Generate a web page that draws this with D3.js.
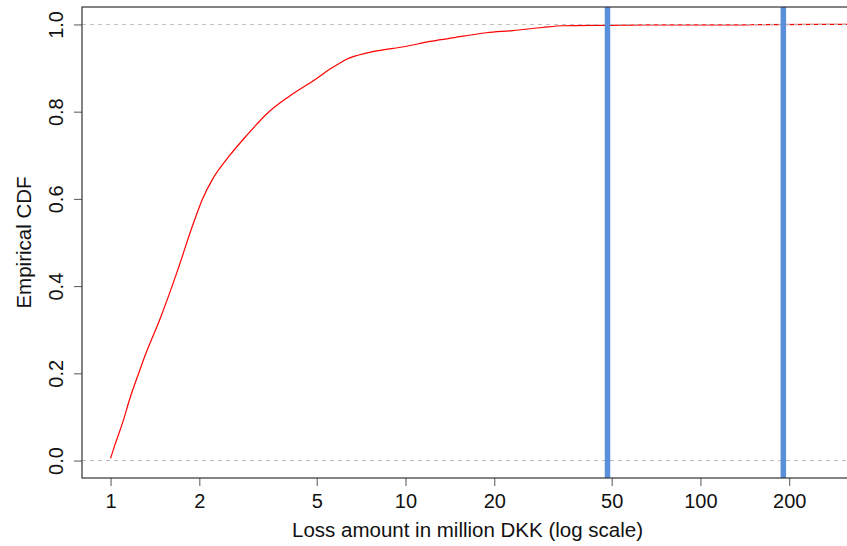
<!DOCTYPE html>
<html>
<head>
<meta charset="utf-8">
<script src="https://cdn.jsdelivr.net/npm/d3@7"></script>
<style>
  html, body { margin: 0; padding: 0; background: #fff; }
  svg { display: block; font-family: Arial, "Liberation Sans", sans-serif; }
</style>
</head>
<body>
<svg id="chart" width="847" height="546"></svg>
<script>
// Loss amounts (million DKK) at which the empirical CDF was read
const lossValues = [1.0, 1.03, 1.10, 1.16, 1.25, 1.32, 1.47, 1.68, 1.90, 2.05, 2.22, 2.53, 2.89, 3.41, 4.05, 5.0, 5.53, 6.12, 6.31, 7.55, 10.1, 12.1, 14.1, 18.8, 23.1, 29.1, 34.1, 48.4, 65.6, 144.7, 152.4, 263.3];
const ecdfValues = [0.005, 0.032, 0.088, 0.140, 0.203, 0.247, 0.324, 0.432, 0.540, 0.600, 0.646, 0.699, 0.745, 0.797, 0.836, 0.876, 0.897, 0.915, 0.920, 0.936, 0.950, 0.961, 0.968, 0.981, 0.986, 0.993, 0.997, 0.998, 0.9990, 0.9991, 0.9995, 1.0];
const xTicks = [1, 2, 5, 10, 20, 50, 100, 200];
const yTicks = [0, 0.2, 0.4, 0.6, 0.8, 1.0];
const refLines = [0, 1];
const thresholds = [48.4, 191];

const svg = d3.select("#chart");
const L = 82, R = 853, T = 7, B = 478;

const lmin = Math.log10(d3.min(lossValues)), lmax = Math.log10(d3.max(lossValues));
const ext = 0.04 * (lmax - lmin);
const x = d3.scaleLog().domain([Math.pow(10, lmin - ext), Math.pow(10, lmax + ext)]).range([L, R]);
const y = d3.scaleLinear().domain([-0.04, 1.04]).range([B, T]);

svg.append("defs").append("clipPath").attr("id", "clip")
  .append("rect").attr("x", L).attr("y", T).attr("width", R - L).attr("height", B - T);

const plot = svg.append("g").attr("clip-path", "url(#clip)");

const pts = lossValues.map((v, i) => [v, ecdfValues[i]]);
pts.push([x.domain()[1], 1.0]);

const line = d3.line().x(d => x(d[0])).y(d => y(d[1])).curve(d3.curveMonotoneX);
plot.append("path").datum(pts)
  .attr("d", line)
  .attr("fill", "none")
  .attr("stroke", "#ff0000")
  .attr("stroke-width", 1.2);

plot.selectAll("line.ref").data(refLines).enter().append("line")
  .attr("class", "ref")
  .attr("x1", L).attr("x2", R)
  .attr("y1", d => y(d)).attr("y2", d => y(d))
  .attr("stroke", "#bdbdbd")
  .attr("stroke-width", 1)
  .attr("stroke-dasharray", "4,4");

plot.selectAll("line.thr").data(thresholds).enter().append("line")
  .attr("class", "thr")
  .attr("x1", d => x(d)).attr("x2", d => x(d))
  .attr("y1", T).attr("y2", B + 4)
  .attr("stroke", "#5a90da")
  .attr("stroke-width", 5.5);

// x axis
const xAxis = d3.axisBottom(x).tickValues(xTicks).tickFormat(d3.format("d")).tickSizeOuter(0).tickSize(8).tickPadding(8);
const gx = svg.append("g").attr("transform", `translate(0,${B})`).call(xAxis);
gx.select(".domain").remove();
gx.selectAll(".tick line").attr("stroke", "#555");
gx.selectAll(".tick text").attr("font-size", 20).attr("fill", "#111").attr("font-family", "Arial, 'Liberation Sans', sans-serif");

// y axis
const yAxis = d3.axisLeft(y).tickValues(yTicks).tickFormat(d3.format(".1f")).tickSizeOuter(0).tickSize(8);
const gy = svg.append("g").attr("transform", `translate(${L},0)`).call(yAxis);
gy.select(".domain").remove();
gy.selectAll(".tick line").attr("stroke", "#555");
gy.selectAll(".tick text")
  .attr("font-size", 20).attr("fill", "#111")
  .attr("font-family", "Arial, 'Liberation Sans', sans-serif")
  .attr("x", null).attr("dy", null)
  .attr("text-anchor", "middle")
  .attr("transform", "translate(-19,0) rotate(-90)");

// box
svg.append("rect").attr("x", L).attr("y", T).attr("width", R - L).attr("height", B - T)
  .attr("fill", "none").attr("stroke", "#333").attr("stroke-width", 1.2);

// titles
svg.append("text").attr("x", (L + R) / 2).attr("y", 537)
  .attr("text-anchor", "middle").attr("font-size", 20.5).attr("fill", "#111")
  .text("Loss amount in million DKK (log scale)");
svg.append("text").attr("transform", `translate(31,${(T + B) / 2}) rotate(-90)`)
  .attr("text-anchor", "middle").attr("font-size", 20.5).attr("fill", "#111")
  .text("Empirical CDF");
</script>
</body>
</html>
